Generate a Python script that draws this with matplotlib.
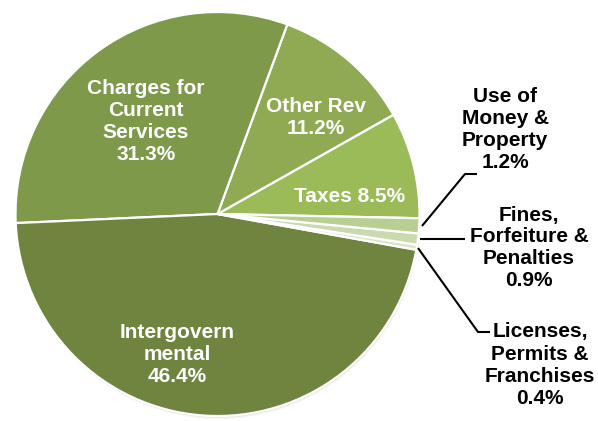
import matplotlib.pyplot as plt
from matplotlib.patches import Circle

W, H = 598, 421

# revenue sources, counter-clockwise from just below 3 o'clock
labels = ["Taxes", "Other Rev", "Charges for\nCurrent\nServices", "Intergovern\nmental",
          "Licenses,\nPermits &\nFranchises", "Fines,\nForfeiture &\nPenalties",
          "Use of\nMoney &\nProperty"]
shares = [8.5, 11.2, 31.3, 46.4, 0.4, 0.9, 1.2]
colors = ["#9BBB59", "#8FAA53", "#7F994A", "#6F843F", "#D9E4C5", "#CAD9AE", "#B9CE93"]

plt.rcParams['font.family'] = ['Liberation Sans', 'DejaVu Sans']

fig = plt.figure(figsize=(W / 100, H / 100), dpi=100)
ax = fig.add_axes([0, 0, 1, 1])

def py(y):
    # pixel row (from top) -> data y
    return H - y

cx, cy, r = 217.5, py(214), 202

# faint drop shadow under the pie
for off, a in [(3, 0.06), (2, 0.10), (1, 0.14)]:
    ax.add_patch(Circle((cx + off * 0.4, cy - off), r, color="gray", alpha=a, lw=0))

ax.pie(shares, colors=colors, startangle=-1.2, counterclock=True, radius=r,
       center=(cx, cy), wedgeprops=dict(edgecolor="white", linewidth=1.6))

ax.set_xlim(0, W)
ax.set_ylim(0, H)
ax.set_aspect("equal")
ax.axis("off")

def label_text(i):
    name = labels[i]
    if name == "Taxes":
        return f"{name} {shares[i]}%"
    return f"{name}\n{shares[i]}%"

# labels inside the big slices (white)
inside = {0: (350, 196), 1: (316, 117), 2: (146, 121), 3: (177, 354)}
for i, (x, y) in inside.items():
    ax.text(x, py(y), label_text(i), color="white", fontsize=15, fontweight="bold",
            ha="center", va="center", linespacing=1.2)

# labels for the thin slices, outside with leader lines
outside = {6: (505, 130), 5: (529, 248), 4: (540, 365)}
for i, (x, y) in outside.items():
    ax.text(x, py(y), label_text(i), color="black", fontsize=15, fontweight="bold",
            ha="center", va="center", linespacing=1.2)

leaders = [
    [(422, 226), (465, 174), (477, 174)],
    [(420, 239), (465, 239)],
    [(418, 248), (478, 332), (490, 332)],
]
for pts in leaders:
    xs = [p[0] for p in pts]
    ys = [py(p[1]) for p in pts]
    ax.plot(xs, ys, color="black", lw=1.5, solid_capstyle="butt")

fig.savefig("out.png", dpi=100)
